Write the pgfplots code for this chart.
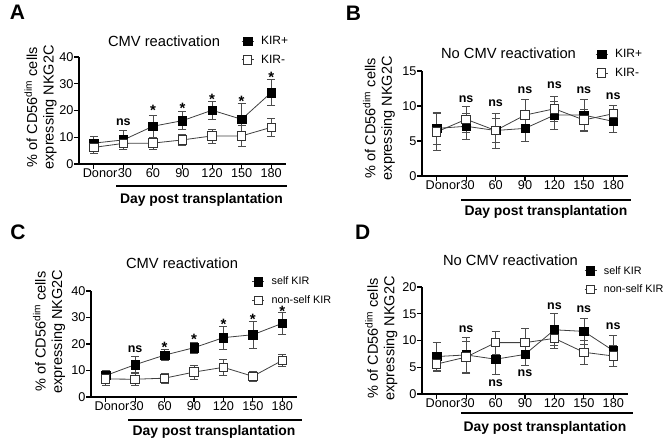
\documentclass[border=0pt]{standalone}
\usepackage{pgfplots}
\pgfplotsset{compat=1.18}
\usepackage{fontspec}
\setmainfont{Liberation Sans}
\newcommand\tf{\fontsize{12.7}{15}\selectfont}

\tikzset{
 ns/.style={font=\bfseries\fontsize{12.5}{14}\selectfont},
 st/.style={font=\bfseries\fontsize{15}{15}\selectfont, yshift=-3pt},
}
\pgfplotsset{
 panel/.style={
  scale only axis, anchor=south west, clip=false,
  axis x line*=bottom, axis y line*=left,
  xmin=-0.5, xmax=6.5, ymin=0,
  xtick={0,...,6},
  xticklabels={\makebox[0pt][l]{\hspace{-11pt}\tf Donor},{\tf\hspace{3pt}30},{\tf 60},{\tf 90},{\tf 120},{\tf 150},{\tf 180}},
  yticklabel={\tf\pgfmathprintnumber{\tick}},
  xticklabel style={yshift=3.5pt},
  yticklabel style={xshift=3pt},
  tick align=outside, major tick length=5pt,
  axis line style={line width=1.2pt},
  every tick/.style={black, line width=1.1pt},
  /pgf/number format/assume math mode=true,
  ylabel={\% of CD56\textsuperscript{dim} cells\\expressing NKG2C},
  legend style={draw=none, fill=none, inner sep=0pt, row sep=5pt,
    font=\fontsize{12}{14}\selectfont, anchor=west},
  legend cell align=left,
  legend image code/.code={\draw[##1] (0pt,0pt) -- (12pt,0pt);
     \draw[##1, only marks] plot coordinates {(6pt,0pt)};
     \path (17pt,0pt);},
 },
 ylab/.style 2 args={ylabel style={align=center, font=\fontsize{14.5}{16.5}\selectfont,
    at={(axis description cs:#1,#2)}, anchor=center}},
 ebar/.style={error bars/y dir=both, error bars/y explicit,
    error bars/error bar style={line width=0.7pt, black!70},
    error bars/error mark options={rotate=90, mark size=4pt, line width=0.7pt, black!70}},
 blk/.style={ebar, black!75, line width=0.8pt, mark=square*, mark size=4.2pt,
    mark options={solid, draw=black, fill=black, line width=0.5pt}},
 wht/.style={ebar, black!75, line width=0.8pt, mark=square*, mark size=4.2pt,
    mark options={solid, draw=black!80, fill=white, line width=0.9pt}},
}

\begin{document}
\begin{tikzpicture}
\path[use as bounding box] (0pt,0pt) rectangle (672pt,443pt);

% ---------- A ----------
\begin{axis}[panel, at={(79pt,279pt)}, width=207pt, height=107pt,
  ymax=40, ytick={0,10,20,30,40}, ylab={-0.186}{0.53},
  legend style={at={(axis description cs:0.783,1.061)}}]
\addplot[blk] coordinates {
 (0,7.8) +- (0,2.6) (1,9.0) +- (0,3.4) (2,14.1) +- (0,4.2) (3,16.2) +- (0,3.4)
 (4,20.1) +- (0,3.5) (5,16.7) +- (0,6.0) (6,26.7) +- (0,4.9)};
\addlegendentry{KIR+}
\addplot[wht] coordinates {
 (0,6.2) +- (0,2.1) (1,7.7) +- (0,2.1) (2,7.8) +- (0,2.2) (3,9.0) +- (0,2.0)
 (4,10.5) +- (0,2.6) (5,10.5) +- (0,3.8) (6,13.7) +- (0,3.3)};
\addlegendentry{KIR-}
\node[ns] at (axis cs:1,15.7) {ns};
\node[st] at (axis cs:2,21.0) {*};
\node[st] at (axis cs:3,21.9) {*};
\node[st] at (axis cs:4,25.4) {*};
\node[st] at (axis cs:5,24.4) {*};
\node[st] at (axis cs:6,33.4) {*};
\end{axis}

% ---------- B ----------
\begin{axis}[panel, at={(422pt,267pt)}, width=206pt, height=105pt,
  ymax=15, ytick={0,5,10,15}, ylab={-0.209}{0.55},
  legend style={at={(axis description cs:0.84,1.07)}}]
\addplot[blk] coordinates {
 (0,6.8) +- (0,2.3) (1,7.1) +- (0,1.9) (2,6.5) +- (0,1.7) (3,6.8) +- (0,1.9)
 (4,8.7) +- (0,2.0) (5,8.7) +- (0,2.3) (6,7.8) +- (0,1.5)};
\addlegendentry{KIR+}
\addplot[wht] coordinates {
 (0,6.3) +- (0,2.6) (1,8.1) +- (0,1.8) (2,6.5) +- (0,2.5) (3,8.7) +- (0,2.3)
 (4,9.6) +- (0,1.8) (5,8.0) +- (0,1.5) (6,8.9) +- (0,1.2)};
\addlegendentry{KIR-}
\node[ns] at (axis cs:1,11.0) {ns};
\node[ns] at (axis cs:2,10.4) {ns};
\node[ns] at (axis cs:3,12.3) {ns};
\node[ns] at (axis cs:4,12.9) {ns};
\node[ns] at (axis cs:5,12.3) {ns};
\node[ns] at (axis cs:6,11.4) {ns};
\end{axis}

% ---------- C ----------
\begin{axis}[panel, at={(91pt,46pt)}, width=206pt, height=106pt,
  ymax=40, ytick={0,10,20,30,40}, ylab={-0.204}{0.616},
  legend style={at={(axis description cs:0.78,1.0)}, font=\fontsize{10.8}{13}\selectfont}]
\addplot[blk] coordinates {
 (0,8.1) +- (0,2.1) (1,12.2) +- (0,3.0) (2,15.8) +- (0,2.0) (3,18.6) +- (0,2.0)
 (4,22.4) +- (0,4.3) (5,23.5) +- (0,5.1) (6,27.8) +- (0,4.3)};
\addlegendentry{self KIR}
\addplot[wht] coordinates {
 (0,6.8) +- (0,2.5) (1,6.7) +- (0,2.3) (2,7.1) +- (0,2.0) (3,9.4) +- (0,2.7)
 (4,11.2) +- (0,2.9) (5,7.8) +- (0,2.0) (6,13.8) +- (0,2.3)};
\addlegendentry{non-self KIR}
\node[ns] at (axis cs:1,18.0) {ns};
\node[st] at (axis cs:2,19.9) {*};
\node[st] at (axis cs:3,22.7) {*};
\node[st] at (axis cs:4,28.6) {*};
\node[st] at (axis cs:5,30.4) {*};
\node[st] at (axis cs:6,33.6) {*};
\end{axis}

% ---------- D ----------
\begin{axis}[panel, at={(422pt,49pt)}, width=206pt, height=107pt,
  ymax=20, ytick={0,5,10,15,20}, ylab={-0.197}{0.52},
  legend style={at={(axis description cs:0.786,1.065)}, font=\fontsize{10.8}{13}\selectfont}]
\addplot[blk] coordinates {
 (0,7.0) +- (0,2.6) (1,7.3) +- (0,3.2) (2,6.5) +- (0,2.8) (3,7.4) +- (0,2.1)
 (4,12.0) +- (0,3.0) (5,11.7) +- (0,2.5) (6,8.1) +- (0,2.9)};
\addlegendentry{self KIR}
\addplot[wht] coordinates {
 (0,5.6) +- (0,1.4) (1,6.9) +- (0,3.0) (2,9.6) +- (0,2.2) (3,9.6) +- (0,2.6)
 (4,10.4) +- (0,1.8) (5,7.8) +- (0,2.2) (6,7.1) +- (0,1.9)};
\addlegendentry{non-self KIR}
\node[ns] at (axis cs:1,12.2) {ns};
\node[ns] at (axis cs:2,2.0) {ns};
\node[ns] at (axis cs:3,3.9) {ns};
\node[ns] at (axis cs:4,16.5) {ns};
\node[ns] at (axis cs:5,15.8) {ns};
\node[ns] at (axis cs:6,12.7) {ns};
\end{axis}

% ---------- titles, x labels, panel letters ----------
\begin{scope}[every node/.style={inner sep=0pt}]
\node[font=\fontsize{14.7}{17}\selectfont] at (164pt,402pt) {CMV reactivation};
\node[font=\fontsize{14.7}{17}\selectfont] at (508.5pt,390pt) {No CMV reactivation};
\node[font=\fontsize{14.7}{17}\selectfont] at (182pt,180pt) {CMV reactivation};
\node[font=\fontsize{14.7}{17}\selectfont] at (510.5pt,183pt) {No CMV reactivation};

\draw[line width=1.3pt] (116pt,257pt) -- (287pt,257pt);
\node[font=\bfseries\fontsize{13.9}{16}\selectfont] at (201.5pt,243pt) {Day post transplantation};
\draw[line width=1.3pt] (461pt,243pt) -- (631pt,243pt);
\node[font=\bfseries\fontsize{13.9}{16}\selectfont] at (546pt,231pt) {Day post transplantation};
\draw[line width=1.3pt] (128pt,23pt) -- (302pt,23pt);
\node[font=\bfseries\fontsize{13.9}{16}\selectfont] at (214pt,11pt) {Day post transplantation};
\draw[line width=1.3pt] (461pt,30pt) -- (633pt,30pt);
\node[font=\bfseries\fontsize{13.9}{16}\selectfont] at (545pt,15pt) {Day post transplantation};

\node[font=\bfseries\fontsize{21}{21}\selectfont] at (17.5pt,430.5pt) {A};
\node[font=\bfseries\fontsize{21}{21}\selectfont] at (353.5pt,430pt) {B};
\node[font=\bfseries\fontsize{21}{21}\selectfont] at (18pt,210.5pt) {C};
\node[font=\bfseries\fontsize{21}{21}\selectfont] at (362.7pt,210.5pt) {D};
\end{scope}
\end{tikzpicture}
\end{document}
